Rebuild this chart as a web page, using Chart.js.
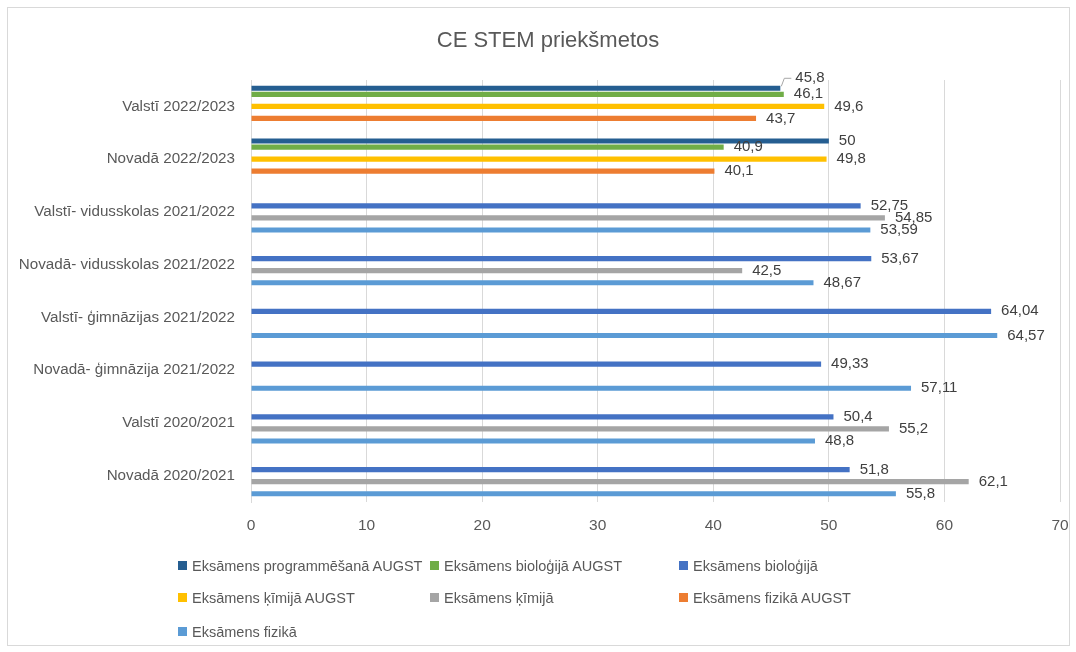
<!DOCTYPE html>
<html>
<head>
<meta charset="utf-8">
<script src="https://cdn.jsdelivr.net/npm/chart.js@4/dist/chart.umd.min.js"></script>
<style>
  body { margin: 0; background: #fff; font-family: "Liberation Sans", Arial, sans-serif; }
  #wrap { position: absolute; left: 0; top: 0; width: 1076px; height: 652px; }
  #frame { position: absolute; left: 7px; top: 7px; width: 1061px; height: 637px; border: 1px solid #d9d9d9; pointer-events: none; }
  .leg { position: absolute; font-size: 14.5px; color: #595959; white-space: nowrap; line-height: 18px; }
  .leg i { position: absolute; left: 0; top: 4px; width: 9px; height: 9px; }
  .leg span { margin-left: 14px; }
</style>
</head>
<body>
<div id="wrap"><canvas id="stemChart"></canvas></div>
<div id="frame"></div>
<div id="legend"></div>
<script>
// categories, top to bottom
const categories = [
    "Valstī 2022/2023",
    "Novadā 2022/2023",
    "Valstī- vidusskolas 2021/2022",
    "Novadā- vidusskolas 2021/2022",
    "Valstī- ģimnāzijas 2021/2022",
    "Novadā- ģimnāzija 2021/2022",
    "Valstī 2020/2021",
    "Novadā 2020/2021"
];

const seriesNames = [
    "Eksāmens programmēšanā AUGST",
    "Eksāmens bioloģijā AUGST",
    "Eksāmens bioloģijā",
    "Eksāmens ķīmijā AUGST",
    "Eksāmens ķīmijā",
    "Eksāmens fizikā AUGST",
    "Eksāmens fizikā"
];

const programmesanaAugst = [45.8, 50, null, null, null, null, null, null];
const biologijaAugst     = [46.1, 40.9, null, null, null, null, null, null];
const biologija          = [null, null, 52.75, 53.67, 64.04, 49.33, 50.4, 51.8];
const kimijaAugst        = [49.6, 49.8, null, null, null, null, null, null];
const kimija             = [null, null, 54.85, 42.5, null, null, 55.2, 62.1];
const fizikaAugst        = [43.7, 40.1, null, null, null, null, null, null];
const fizika             = [null, null, 53.59, 48.67, 64.57, 57.11, 48.8, 55.8];

const xTicks = [0, 10, 20, 30, 40, 50, 60, 70];

const chartTitle = "CE STEM priekšmetos";

const colors = [
    "#255e91", // programmēšana AUGST
    "#70ad47", // bioloģija AUGST
    "#4472c4", // bioloģija
    "#ffc000", // ķīmija AUGST
    "#a5a5a5", // ķīmija
    "#ed7d31", // fizika AUGST
    "#5b9bd5"  // fizika
];

const seriesValues = [programmesanaAugst, biologijaAugst, biologija, kimijaAugst, kimija, fizikaAugst, fizika];

const datasets = seriesValues.map((vals, i) => ({
    label: seriesNames[i],
    data: vals,
    backgroundColor: colors[i],
    borderWidth: 0,
    categoryPercentage: 0.8,
    barPercentage: 0.85
}));

const fmt = v => String(v).replace(".", ",");

// title sits a bit right of the canvas centre in the original
const titleText = {
    id: "titleText",
    afterDraw(chart) {
        const ctx = chart.ctx;
        ctx.save();
        ctx.font = "22px 'Liberation Sans', Arial, sans-serif";
        ctx.fillStyle = "#595959";
        ctx.textAlign = "center";
        ctx.textBaseline = "middle";
        ctx.fillText(chartTitle, 548, 41);
        ctx.restore();
    }
};

// value labels at bar ends
const valueLabels = {
    id: "valueLabels",
    afterDatasetsDraw(chart) {
        const ctx = chart.ctx;
        ctx.save();
        ctx.font = "15px 'Liberation Sans', Arial, sans-serif";
        ctx.fillStyle = "#404040";
        ctx.textBaseline = "middle";
        ctx.textAlign = "left";
        chart.data.datasets.forEach((ds, di) => {
            const meta = chart.getDatasetMeta(di);
            meta.data.forEach((bar, idx) => {
                const v = ds.data[idx];
                if (v === null || v === undefined) return;
                let x = bar.x + 10;
                let y = bar.y;
                if (di === 0 && idx === 0) {
                    // pushed up with a leader line, as in the original
                    y = bar.y - 10;
                    ctx.strokeStyle = "#a6a6a6";
                    ctx.lineWidth = 1;
                    ctx.beginPath();
                    ctx.moveTo(bar.x + 1, bar.y - 2);
                    ctx.lineTo(bar.x + 4, y);
                    ctx.lineTo(bar.x + 11, y);
                    ctx.stroke();
                    x = bar.x + 15;
                }
                ctx.fillText(fmt(v), x, y);
            });
        });
        ctx.restore();
    }
};

new Chart(document.getElementById("stemChart"), {
    type: "bar",
    data: { labels: categories, datasets: datasets },
    options: {
        indexAxis: "y",
        responsive: true,
        maintainAspectRatio: false,
        animation: false,
        layout: { padding: { top: 80, right: 16, bottom: 110, left: 0 } },
        plugins: {
            legend: { display: false },
            tooltip: { enabled: false },
            title: { display: false }
        },
        scales: {
            x: {
                min: 0,
                max: 70,
                afterBuildTicks: scale => { scale.ticks = xTicks.map(v => ({ value: v })); },
                afterFit: scale => {
                    scale.height = 40;
                    scale.paddingLeft = 0;
                    scale.paddingRight = 0;
                },
                grid: { color: "#d9d9d9", drawTicks: false },
                border: { display: false },
                ticks: {
                    padding: 14,
                    color: "#595959",
                    font: { family: "'Liberation Sans', Arial, sans-serif", size: 15.5 }
                }
            },
            y: {
                afterFit: scale => { scale.width = 251; },
                grid: { display: false, drawTicks: false },
                border: { color: "#d9d9d9" },
                ticks: {
                    padding: 16,
                    color: "#595959",
                    font: { family: "'Liberation Sans', Arial, sans-serif", size: 15.2 }
                }
            }
        }
    },
    plugins: [valueLabels, titleText]
});

// legend in three columns, like the Excel original
const legendCols = [178, 430, 679];
const legendRows = [566, 598, 632];
const legendBox = document.getElementById("legend");
seriesNames.forEach((name, i) => {
    const el = document.createElement("div");
    el.className = "leg";
    el.style.left = legendCols[i % 3] + "px";
    el.style.top = (legendRows[Math.floor(i / 3)] - 9) + "px";
    el.innerHTML = '<i style="background:' + colors[i] + '"></i><span>' + name + '</span>';
    legendBox.appendChild(el);
});
</script>
</body>
</html>
